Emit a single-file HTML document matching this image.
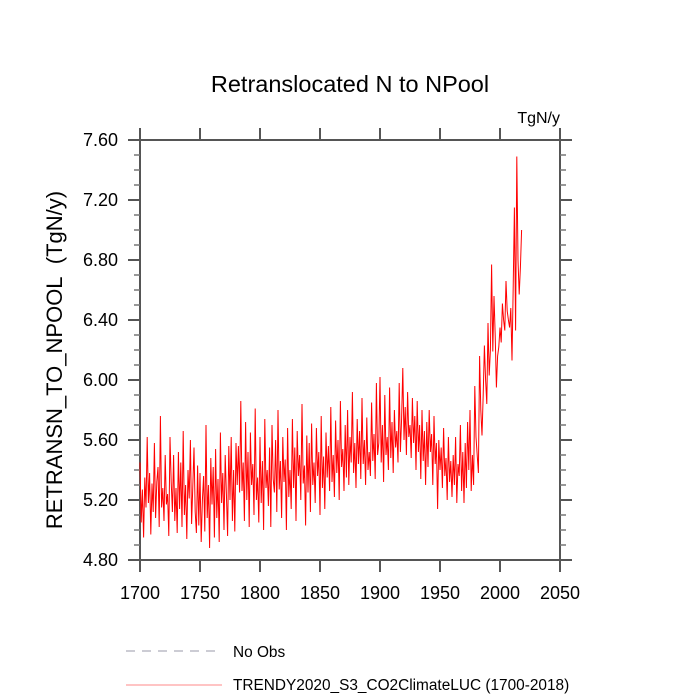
<!DOCTYPE html>
<html><head><meta charset="utf-8"><style>
body{margin:0;background:#fff;}
svg{display:block;font-family:"Liberation Sans",sans-serif;}
</style></head><body>
<svg id="chart" width="700" height="700" viewBox="0 0 700 700" xmlns="http://www.w3.org/2000/svg">
<rect width="700" height="700" fill="#fff"/>
<text x="350" y="92" font-size="23.5" text-anchor="middle" fill="#000">Retranslocated N to NPool</text>
<text x="560" y="123" font-size="16" text-anchor="end" fill="#000">TgN/y</text>
<text transform="translate(62,360) rotate(-90)" font-size="22" text-anchor="middle" fill="#000" style="white-space:pre">RETRANSN_TO_NPOOL&#160;&#160;(TgN/y)</text>
<g id="axes"></g>
<g id="series"></g>
<g>
<line x1="126" y1="651" x2="222" y2="651" stroke="#99a" stroke-width="1" stroke-dasharray="9,7"/>
<text x="233" y="657" font-size="15.4" fill="#000">No Obs</text>
<line x1="126" y1="685" x2="222" y2="685" stroke="#f88" stroke-width="1"/>
<text x="233" y="690" font-size="15.4" fill="#000">TRENDY2020_S3_CO2ClimateLUC (1700-2018)</text>
</g>
</svg>
<script>
const xTicks=[1700,1750,1800,1850,1900,1950,2000,2050];
const yTicks=[4.8,5.2,5.6,6.0,6.4,6.8,7.2,7.6];
const startYear=1700;
const values=[
5.45,5.05,5.27,4.95,5.35,5.15,5.62,5.18,5.38,4.97,
5.31,5.12,5.58,5.08,5.32,5.42,5.02,5.76,5.15,5.28,
5.06,5.50,5.17,5.24,4.96,5.62,5.32,5.12,5.50,5.06,
5.28,4.98,5.52,5.14,5.45,5.02,5.66,5.10,5.30,4.94,
5.40,5.21,5.60,5.04,5.29,5.55,5.12,4.98,5.43,5.03,
5.38,4.92,5.20,5.36,4.99,5.70,5.08,5.30,4.88,5.48,
5.17,5.42,4.95,5.54,5.08,5.34,4.92,5.65,5.18,5.38,
5.00,5.50,5.24,4.96,5.56,5.20,5.62,5.06,5.40,4.99,
5.58,5.30,5.56,5.25,5.86,5.26,5.45,5.06,5.72,5.20,
5.52,5.02,5.65,5.30,5.44,5.10,5.81,5.20,5.35,5.05,
5.62,5.18,5.46,5.00,5.74,5.28,5.40,5.16,5.55,5.02,
5.70,5.34,5.25,5.60,5.12,5.80,5.27,5.46,5.08,5.62,
5.32,5.47,5.00,5.68,5.22,5.40,5.14,5.74,5.28,5.55,
5.06,5.66,5.36,5.50,5.20,5.84,5.31,5.43,5.03,5.63,
5.25,5.58,5.12,5.71,5.30,5.45,5.18,5.68,5.36,5.52,
5.10,5.76,5.28,5.49,5.14,5.65,5.35,5.56,5.26,5.82,
5.32,5.50,5.22,5.73,5.38,5.60,5.20,5.86,5.42,5.54,
5.26,5.70,5.35,5.80,5.30,5.62,5.45,5.92,5.38,5.58,
5.28,5.74,5.44,5.66,5.34,5.88,5.44,5.60,5.30,5.75,
5.40,5.52,5.36,5.85,5.46,5.64,5.34,5.98,5.50,5.58,
6.02,5.45,5.70,5.32,5.90,5.50,5.62,5.40,5.95,5.48,
5.72,5.38,5.80,5.55,5.66,5.45,5.98,5.52,5.74,6.08,
5.60,5.82,5.50,5.92,5.62,5.70,5.48,5.88,5.58,5.76,
5.40,5.86,5.52,5.70,5.34,5.80,5.46,5.66,5.30,5.72,
5.42,5.80,5.52,5.64,5.30,5.76,5.44,5.58,5.14,5.60,
5.40,5.55,5.28,5.68,5.36,5.48,5.20,5.62,5.32,5.46,
5.22,5.50,5.30,5.62,5.18,5.44,5.36,5.70,5.26,5.52,
5.18,5.58,5.28,5.72,5.40,5.80,5.26,5.50,5.30,5.96,
5.62,5.50,5.38,6.16,5.80,5.63,5.90,6.23,6.00,5.84,
6.38,6.03,6.20,6.77,6.19,6.56,6.30,5.95,6.16,6.22,
6.35,6.25,6.51,6.40,6.33,6.66,6.46,6.40,6.35,6.48,
6.13,6.62,7.15,6.33,7.49,6.80,6.57,6.75,7.00
];
const x0=140,x1=560,y0=560,y1=140;
const xMin=1700,xMax=2050,yMin=4.8,yMax=7.6;
function xs(v){return x0+(v-xMin)/(xMax-xMin)*(x1-x0);}
function ys(v){return y0-(v-yMin)/(yMax-yMin)*(y0-y1);}
const NS="http://www.w3.org/2000/svg";
const axes=document.getElementById('axes');
function mk(tag,attrs,parent){const e=document.createElementNS(NS,tag);for(const k in attrs)e.setAttribute(k,attrs[k]);parent.appendChild(e);return e;}
const frame=mk('rect',{x:x0,y:y1,width:x1-x0,height:y0-y1,fill:'none',stroke:'#555','stroke-width':2},axes);


xTicks.forEach(t=>{
  const X=xs(t);
  const tb=mk('line',{x1:X,y1:y0,x2:X,y2:y0+12,stroke:'#555','stroke-width':2},axes);
  
  
  const tt=mk('line',{x1:X,y1:y1,x2:X,y2:y1-12,stroke:'#555','stroke-width':2},axes);
  
  
  const lb=mk('text',{x:X,y:y0+39,'font-size':18,'text-anchor':'middle',fill:'#000'},axes);
  lb.textContent=t;
  
  
});
yTicks.forEach((t,i)=>{
  const Y=ys(t);
  const tl=mk('line',{x1:x0-12,y1:Y,x2:x0,y2:Y,stroke:'#555','stroke-width':2},axes);
  
  
  const tr=mk('line',{x1:x1,y1:Y,x2:x1+12,y2:Y,stroke:'#555','stroke-width':2},axes);
  
  
  const lb=mk('text',{x:x0-22,y:Y+6,'font-size':18,'text-anchor':'end',fill:'#000'},axes);
  lb.textContent=t.toFixed(2);
  
  
  if(i<yTicks.length-1){
    for(let m=1;m<4;m++){
      const Ym=ys(t+m*0.1);
      const ml=mk('line',{x1:x0-6,y1:Ym,x2:x0,y2:Ym,stroke:'#777','stroke-width':1.5},axes);
      
      
      const mr=mk('line',{x1:x1,y1:Ym,x2:x1+6,y2:Ym,stroke:'#777','stroke-width':1.5},axes);
      
      
    }
  }
});
const pts=values.map((v,i)=>xs(startYear+i).toFixed(2)+','+ys(v).toFixed(2)).join(' ');
const line=mk('polyline',{points:pts,fill:'none',stroke:'#f00','stroke-width':1},document.getElementById('series'));


</script>
</body></html>
